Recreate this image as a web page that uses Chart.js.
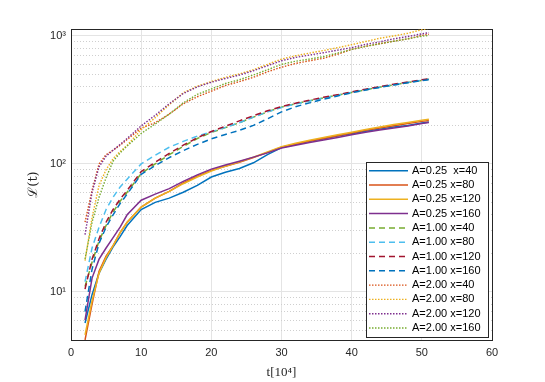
<!DOCTYPE html>
<html>
<head>
<meta charset="utf-8">
<script src="https://cdn.jsdelivr.net/npm/chart.js@4.4.1/dist/chart.umd.min.js"></script>
<style>
    body { margin: 0; background: #fff; }
</style>
</head>
<body>
<canvas id="myChart" width="545" height="382"></canvas>
<script>
// time axis, in units of 10^4
const tVals = [2, 3, 4, 5, 6, 7, 8, 10, 12, 14, 16, 18, 20, 22, 24, 26, 28, 30, 32, 34, 36, 38, 40, 42, 44, 46, 48, 50, 51];

// A = 0.25 (solid)
const a025x40  = [5.7, 9.5, 14, 18, 22.5, 27, 33, 44, 50, 54, 60, 68, 79, 86, 92, 102, 118, 134, 142, 150, 157, 165, 172, 180, 187, 194, 200, 209, 213];
const a025x80  = [4.2, 8, 14.5, 19, 23, 29, 35, 46, 54, 61, 71, 80, 89, 96, 103, 112, 123, 135, 143, 151, 158, 166, 174, 183, 191, 199, 207, 215, 218];
const a025x120 = [4.6, 8.5, 14, 18.5, 23, 29, 35, 46, 54, 61, 70, 79, 88, 96, 104, 113, 124, 136, 145, 153, 161, 169, 177, 186, 194, 203, 211, 219, 223];
const a025x160 = [6, 12.8, 18, 22, 26.5, 32, 40, 52, 58, 64, 73, 82, 91, 98, 105, 113, 122, 133, 140, 147, 154, 161, 169, 177, 184, 191, 198, 207, 211];

// A = 1.00 (dashed)
const a100x40  = [11, 17, 25, 33, 42, 51, 60, 84, 100, 118, 137, 158, 176, 192, 210, 232, 255, 278, 295, 312, 328, 345, 362, 380, 398, 415, 432, 450, 458];
const a100x80  = [12, 22, 32, 44, 55, 66, 76, 100, 117, 135, 150, 165, 178, 193, 210, 232, 255, 276, 294, 310, 327, 344, 362, 380, 398, 416, 433, 451, 460];
const a100x120 = [10.5, 18, 26, 35, 44, 53, 62, 87, 103, 121, 140, 160, 179, 197, 217, 238, 260, 281, 298, 315, 332, 348, 366, 384, 402, 420, 437, 454, 462];
const a100x160 = [7, 15, 24, 32, 40, 49, 58, 83, 97, 112, 127, 142, 157, 170, 183, 200, 225, 255, 280, 300, 320, 340, 360, 378, 396, 414, 431, 448, 456];

// A = 2.00 (dotted)
const a200x40  = [35, 62, 100, 118, 128, 140, 155, 190, 210, 245, 295, 335, 370, 410, 440, 475, 525, 570, 610, 640, 670, 720, 785, 830, 870, 910, 950, 1010, 1030];
const a200x80  = [17.5, 38, 68, 90, 110, 125, 140, 185, 230, 290, 360, 405, 440, 475, 505, 545, 600, 660, 700, 735, 770, 810, 855, 905, 960, 1000, 1050, 1120, 1150];
const a200x120 = [28, 60, 95, 115, 128, 142, 158, 198, 240, 295, 355, 400, 435, 465, 495, 535, 585, 640, 680, 710, 740, 775, 810, 860, 900, 950, 990, 1040, 1060];
const a200x160 = [18, 35, 55, 78, 105, 122, 138, 173, 205, 245, 300, 350, 385, 425, 455, 495, 545, 600, 635, 660, 690, 735, 785, 830, 870, 910, 950, 997, 1010];

const labels = ['A=0.25  x=40', 'A=0.25 x=80', 'A=0.25 x=120', 'A=0.25 x=160',
                'A=1.00 x=40', 'A=1.00 x=80', 'A=1.00 x=120', 'A=1.00 x=160',
                'A=2.00 x=40', 'A=2.00 x=80', 'A=2.00 x=120', 'A=2.00 x=160'];
const series = [a025x40, a025x80, a025x120, a025x160,
                a100x40, a100x80, a100x120, a100x160,
                a200x40, a200x80, a200x120, a200x160];
const colors = ['#0072BD', '#D95319', '#EDB120', '#7E2F8E',
                '#77AC30', '#4DBEEE', '#A2142F', '#0072BD',
                '#D95319', '#EDB120', '#7E2F8E', '#77AC30'];

const yTickVals = [10, 100, 1000];
const yTickText = ['10¹', '10²', '10³'];
const yMin = 4.2, yMax = 1134;

const minorVals = [];
[1, 10, 100].forEach(function (d) {
    for (let k = 2; k <= 9; k++) {
        if (k * d > yMin && k * d < yMax) minorVals.push(k * d);
    }
});

const axisColor = '#262626';

const datasets = series.map(function (vals, i) {
    const group = Math.floor(i / 4);
    return {
        label: labels[i],
        data: tVals.map(function (t, j) { return { x: t, y: vals[j] }; }),
        borderColor: colors[i],
        borderWidth: group === 2 ? 1.4 : 1.5,
        borderDash: group === 0 ? [] : (group === 1 ? [6, 4] : [1.5, 1.5]),
        pointRadius: 0,
        fill: false,
        tension: 0,
        order: 11 - i
    };
});

// legend box inside the lower right corner of the axes
const boxLegend = {
    id: 'boxLegend',
    afterDraw(chart) {
        const ctx = chart.ctx;
        const area = chart.chartArea;
        const w = 122, h = 175, rowH = 14.3;
        const x0 = Math.round(area.right - 4 - w), y0 = Math.round(area.bottom - 3 - h);
        ctx.save();
        ctx.fillStyle = '#fff';
        ctx.fillRect(x0, y0, w, h);
        ctx.strokeStyle = axisColor;
        ctx.lineWidth = 1;
        ctx.strokeRect(x0 + 0.5, y0 + 0.5, w, h);
        ctx.font = '11px "Liberation Sans", Arial, sans-serif';
        ctx.textBaseline = 'middle';
        chart.data.datasets.forEach(function (ds, i) {
            const y = y0 + 8.7 + i * rowH;
            ctx.strokeStyle = ds.borderColor;
            ctx.lineWidth = ds.borderWidth;
            ctx.setLineDash(ds.borderDash);
            ctx.beginPath();
            ctx.moveTo(x0 + 3, y);
            ctx.lineTo(x0 + 42, y);
            ctx.stroke();
            ctx.setLineDash([]);
            ctx.fillStyle = '#000';
            ctx.fillText(ds.label, x0 + 46, y);
        });
        ctx.restore();
    }
};

Chart.defaults.font.family = '"Liberation Sans", Arial, sans-serif';
Chart.defaults.font.size = 11;
Chart.defaults.color = axisColor;

const config = {
    type: 'line',
    data: { datasets: datasets },
    options: {
        responsive: false,
        animation: false,
        layout: { padding: { left: 0, right: 53, top: 29, bottom: 0 } },
        plugins: {
            legend: { display: false },
            tooltip: { enabled: false }
        },
        scales: {
            x: {
                type: 'linear',
                min: 0,
                max: 60,
                ticks: { stepSize: 10, padding: 6, color: axisColor },
                grid: { color: '#e4e4e4', drawTicks: false },
                border: { color: axisColor },
                title: {
                    display: true,
                    text: 't[10⁴]',
                    font: { family: '"Liberation Serif", serif', size: 13 },
                    padding: { top: 0, bottom: 2 },
                    color: axisColor
                },
                afterFit: function (s) { s.height = 42; }
            },
            xTop: {
                type: 'linear',
                position: 'top',
                min: 0,
                max: 60,
                ticks: { display: false },
                grid: { display: false, drawTicks: false },
                border: { color: axisColor },
                afterFit: function (s) { s.height = 0; }
            },
            yMinor: {
                type: 'logarithmic',
                position: 'left',
                min: yMin,
                max: yMax,
                ticks: { display: false },
                grid: { color: '#cfcfcf', drawTicks: false },
                border: { display: false, dash: [1, 2] },
                afterBuildTicks: function (s) {
                    s.ticks = minorVals.map(function (v) { return { value: v }; });
                },
                afterFit: function (s) { s.width = 0; }
            },
            y: {
                type: 'logarithmic',
                position: 'left',
                min: yMin,
                max: yMax,
                afterBuildTicks: function (s) {
                    s.ticks = yTickVals.map(function (v) { return { value: v }; });
                },
                ticks: {
                    padding: 5,
                    color: axisColor,
                    callback: function (v) {
                        const k = yTickVals.indexOf(v);
                        return k >= 0 ? yTickText[k] : '';
                    }
                },
                grid: { color: '#e4e4e4', drawTicks: false },
                border: { color: axisColor },
                title: {
                    display: true,
                    text: 'ℒ(t)',
                    font: { family: '"DejaVu Serif", serif', size: 13 },
                    padding: { top: 26, bottom: 0 },
                    color: axisColor
                },
                afterFit: function (s) { s.width = 71; }
            },
            yRight: {
                type: 'logarithmic',
                position: 'right',
                min: yMin,
                max: yMax,
                ticks: { display: false },
                grid: { display: false, drawTicks: false },
                border: { color: axisColor },
                afterFit: function (s) { s.width = 0; }
            }
        }
    },
    plugins: [boxLegend]
};

const myChart = new Chart(
    document.getElementById('myChart'),
    config
);
</script>
</body>
</html>
